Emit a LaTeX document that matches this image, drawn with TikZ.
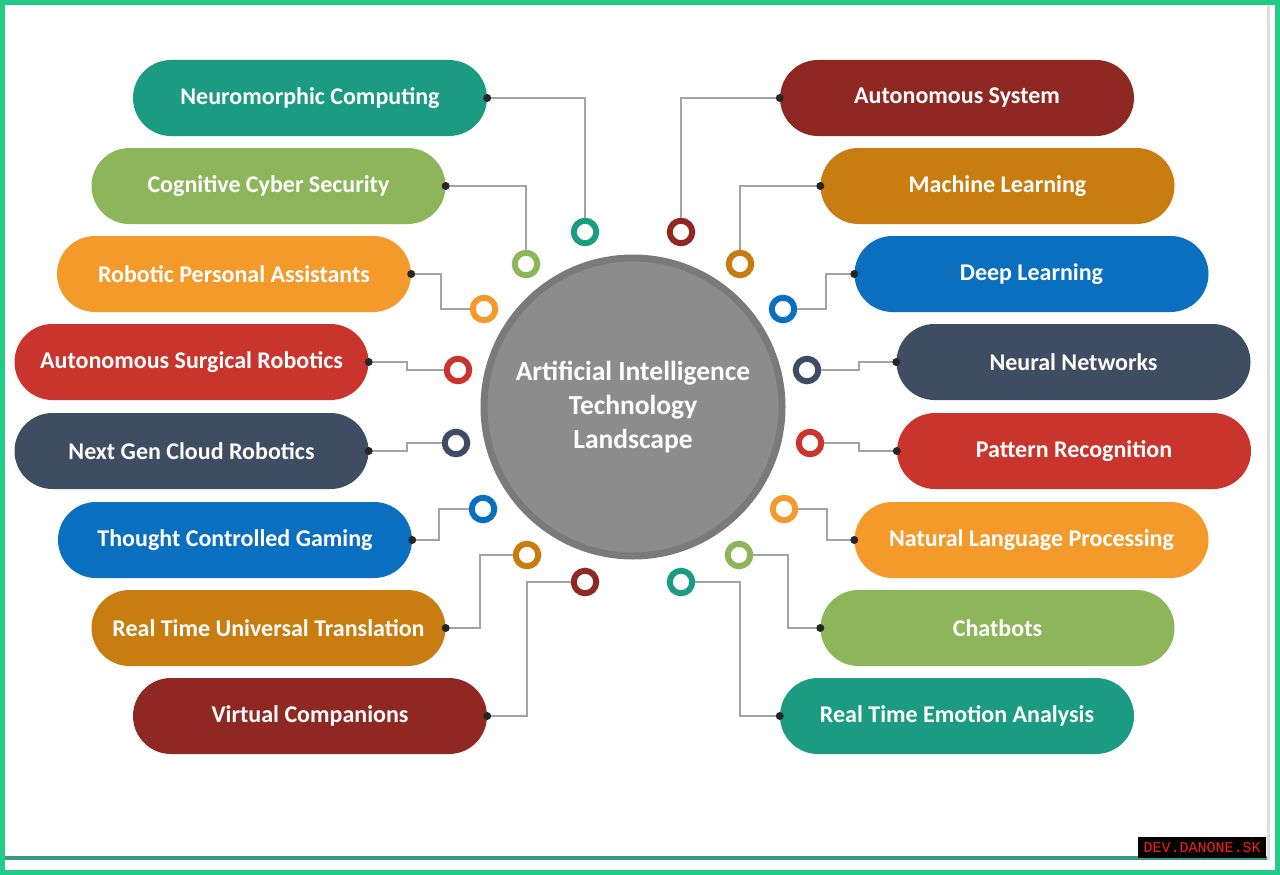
\documentclass[tikz,border=0pt]{standalone}
\usepackage{fontspec}
\setmainfont{Carlito}
\newfontfamily\wmfont{Liberation Mono}
\definecolor{cteal}{HTML}{1B9B82}
\definecolor{cgreen}{HTML}{8DB65A}
\definecolor{corange}{HTML}{F39A2B}
\definecolor{cred}{HTML}{C9342D}
\definecolor{cslate}{HTML}{3F4D63}
\definecolor{cblue}{HTML}{0B6FC0}
\definecolor{cdorange}{HTML}{C97C0F}
\definecolor{cdred}{HTML}{8F2822}
\definecolor{cgray}{HTML}{8C8C8C}
\definecolor{cgrayd}{HTML}{7A7A7A}
\definecolor{cline}{HTML}{A3A3A3}
\definecolor{frame}{HTML}{22CC88}
\definecolor{bline}{HTML}{3A9A8A}
\definecolor{wmred}{HTML}{FF1A1A}
\tikzset{
  pill/.style={fill=#1, rounded corners=38, minimum width=354, minimum height=76,
    inner sep=0, text=white, font=\bfseries\fontsize{24}{28}\selectfont},
  ring/.style={circle, draw=#1, fill=white, line width=6, minimum size=22.5, inner sep=0},
  conn/.style={draw=cline, line width=2},
  pdot/.style={fill=black!85},
}
\begin{document}
\begin{tikzpicture}[x=1pt,y=-1pt]
\useasboundingbox (0,0) rectangle (1280,875);
\fill[white] (0,0) rectangle (1280,875);
% frame
\draw[frame, line width=5] (2.5,2.5) rectangle (1277.5,872.5);
\draw[bline, line width=4] (5,858) -- (1268,858);
\draw[black!13, line width=3] (1268.5,5) -- (1268.5,860);
% centre
\node[circle, fill=cgray, draw=cgrayd, line width=7, minimum size=298, text=white,
  align=center, font=\bfseries\fontsize{27.5}{34}\selectfont] (C) at (633,407)
  {Artificial Intelligence\\Technology\\Landscape};
% left pills
\node[pill=cteal]    (L1) at (310,98)  {Neuromorphic Computing};
\node[pill=cgreen]   (L2) at (268.5,186) {Cognitive Cyber Security};
\node[pill=corange]  (L3) at (234,274) {Robotic Personal Assistants};
\node[pill=cred]     (L4) at (191.5,362) {Autonomous Surgical Robotics};
\node[pill=cslate]   (L5) at (191.5,451) {Next Gen Cloud Robotics};
\node[pill=cblue]    (L6) at (235,540) {Thought Controlled Gaming};
\node[pill=cdorange] (L7) at (268.5,628) {Real Time Universal Translation};
\node[pill=cdred]    (L8) at (310,716) {Virtual Companions};
% right pills
\node[pill=cdred]    (R1) at (957,98)  {Autonomous System};
\node[pill=cdorange] (R2) at (997.5,186) {Machine Learning};
\node[pill=cblue]    (R3) at (1031.5,274) {Deep Learning};
\node[pill=cslate]   (R4) at (1073.5,362) {Neural Networks};
\node[pill=cred]     (R5) at (1074,451) {Pattern Recognition};
\node[pill=corange]  (R6) at (1031.5,540) {Natural Language Processing};
\node[pill=cgreen]   (R7) at (997.5,628) {Chatbots};
\node[pill=cteal]    (R8) at (957,716) {Real Time Emotion Analysis};
% left rings
\node[ring=cteal]    (l1) at (585,232) {};
\node[ring=cgreen]   (l2) at (526,264) {};
\node[ring=corange]  (l3) at (484,309) {};
\node[ring=cred]     (l4) at (458,370) {};
\node[ring=cslate]   (l5) at (456,443) {};
\node[ring=cblue]    (l6) at (483,509) {};
\node[ring=cdorange] (l7) at (527,555) {};
\node[ring=cdred]    (l8) at (585,582) {};
% right rings
\node[ring=cdred]    (r1) at (681,232) {};
\node[ring=cdorange] (r2) at (740,264) {};
\node[ring=cblue]    (r3) at (783,309) {};
\node[ring=cslate]   (r4) at (807,370) {};
\node[ring=cred]     (r5) at (810,443) {};
\node[ring=corange]  (r6) at (784,509) {};
\node[ring=cgreen]   (r7) at (739,555) {};
\node[ring=cteal]    (r8) at (681,582) {};
% left connectors
\draw[conn] (L1.east) -| (l1.north);
\draw[conn] (L2.east) -| (l2.north);
\draw[conn] (L3.east) -- ++(30,0) |- (l3.west);
\draw[conn] (L4.east) -- ++(38,0) |- (l4.west);
\draw[conn] (L5.east) -- ++(38,0) |- (l5.west);
\draw[conn] (L6.east) -- ++(27,0) |- (l6.west);
\draw[conn] (L7.east) -- ++(34,0) |- (l7.west);
\draw[conn] (L8.east) -- ++(40,0) |- (l8.west);
% right connectors
\draw[conn] (R1.west) -| (r1.north);
\draw[conn] (R2.west) -| (r2.north);
\draw[conn] (R3.west) -- ++(-28,0) |- (r3.east);
\draw[conn] (R4.west) -- ++(-37,0) |- (r4.east);
\draw[conn] (R5.west) -- ++(-38,0) |- (r5.east);
\draw[conn] (R6.west) -- ++(-27,0) |- (r6.east);
\draw[conn] (R7.west) -- ++(-32,0) |- (r7.east);
\draw[conn] (R8.west) -- ++(-40,0) |- (r8.east);
% dots
\foreach \n in {L1,L2,L3,L4,L5,L6,L7,L8} \fill[pdot] (\n.east) circle (4);
\foreach \n in {R1,R2,R3,R4,R5,R6,R7,R8} \fill[pdot] (\n.west) circle (4);
% watermark
\node[fill=black, minimum width=128, minimum height=21, inner sep=0, text=wmred,
  font=\wmfont\fontsize{15}{15}\selectfont] (wm) at (1202,847.5) {DEV.DANONE.SK};
\end{tikzpicture}
\end{document}
